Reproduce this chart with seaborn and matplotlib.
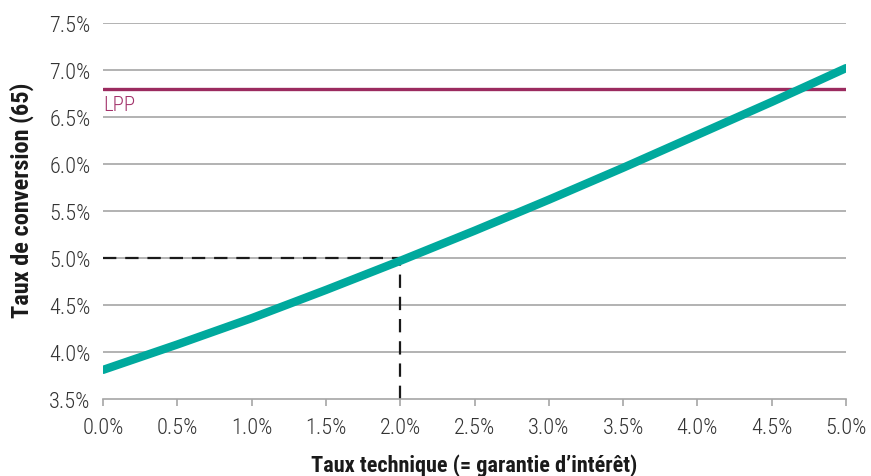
import matplotlib
matplotlib.use("Agg")
import matplotlib.pyplot as plt
import seaborn as sns
import pandas as pd
from matplotlib.ticker import FuncFormatter

# Technical interest rate (%) and resulting conversion rate at 65 (%)
taux_technique = [0.0, 0.5, 1.0, 1.5, 2.0, 2.5, 3.0, 3.5, 4.0, 4.5, 5.0]
taux_conversion = [3.81, 4.08, 4.36, 4.66, 4.97, 5.29, 5.62, 5.96, 6.31, 6.66, 7.02]

# Legal minimum conversion rate (LPP)
lpp_rate = 6.8
lpp_label = "LPP"

# Reference point highlighted with dashed guides
ref_x = 2.0
ref_y = 5.0

x_ticks = [0.0, 0.5, 1.0, 1.5, 2.0, 2.5, 3.0, 3.5, 4.0, 4.5, 5.0]
y_ticks = [3.5, 4.0, 4.5, 5.0, 5.5, 6.0, 6.5, 7.0, 7.5]

x_label = "Taux technique (= garantie d\u2019intérêt)"
y_label = "Taux de conversion (65)"

sns.set_theme(style="white")
plt.rcParams["font.family"] = ["Roboto Condensed", "Liberation Sans", "DejaVu Sans"]

df = pd.DataFrame({"x": taux_technique, "y": taux_conversion})

fig = plt.figure(figsize=(8.71, 4.77), dpi=100)
ax = fig.add_axes([0.1183, 0.1614, 0.853, 0.7883])

ax.set_xlim(0, 5)
ax.set_ylim(3.5, 7.5)
ax.set_yticks(y_ticks)
ax.set_xticks(x_ticks)

grid_col = "#a6a6a6"
for yv in y_ticks[1:]:
    ax.axhline(yv, color=grid_col, lw=1.2, zorder=1)

# Dashed guides to the reference point
ax.plot([0, ref_x], [ref_y, ref_y], color="#1a1a1a", lw=1.6, ls=(0, (6, 4)), zorder=2)
ax.plot([ref_x, ref_x], [3.5, ref_y], color="#1a1a1a", lw=1.6, ls=(0, (6, 4)), zorder=2)

# LPP minimum rate
ax.plot([0, 5], [lpp_rate, lpp_rate], color="#9b2b5f", lw=2.4,
        solid_capstyle="round", zorder=3)
ax.text(0.0, lpp_rate - 0.07, lpp_label, color="#a3336b", fontsize=15,
        fontweight="light", ha="left", va="top")

# Conversion rate curve
sns.lineplot(data=df, x="x", y="y", ax=ax, color="#00a99d", lw=6,
             solid_capstyle="round", solid_joinstyle="round", zorder=4)

fmt = FuncFormatter(lambda v, _: f"{v:.1f}%")
ax.xaxis.set_major_formatter(fmt)
ax.yaxis.set_major_formatter(fmt)

for side in ["top", "right", "left"]:
    ax.spines[side].set_visible(False)
ax.spines["bottom"].set_color(grid_col)
ax.spines["bottom"].set_linewidth(1.2)

ax.tick_params(axis="x", which="major", direction="out", length=5, width=1.2,
               color=grid_col, labelsize=16, labelcolor="#333333", pad=8, bottom=True)
ax.tick_params(axis="y", which="major", length=0, labelsize=16,
               labelcolor="#333333", pad=9, left=False)
for lab in ax.get_xticklabels() + ax.get_yticklabels():
    lab.set_fontweight("light")

ax.set_xlabel(x_label, fontsize=16, fontweight="bold", color="#1a1a1a", labelpad=11)
ax.set_ylabel(y_label, fontsize=17.5, fontweight="bold", color="#1a1a1a")
ax.yaxis.set_label_coords(-0.093, 0.53)

fig.savefig("out.png", dpi=100)
